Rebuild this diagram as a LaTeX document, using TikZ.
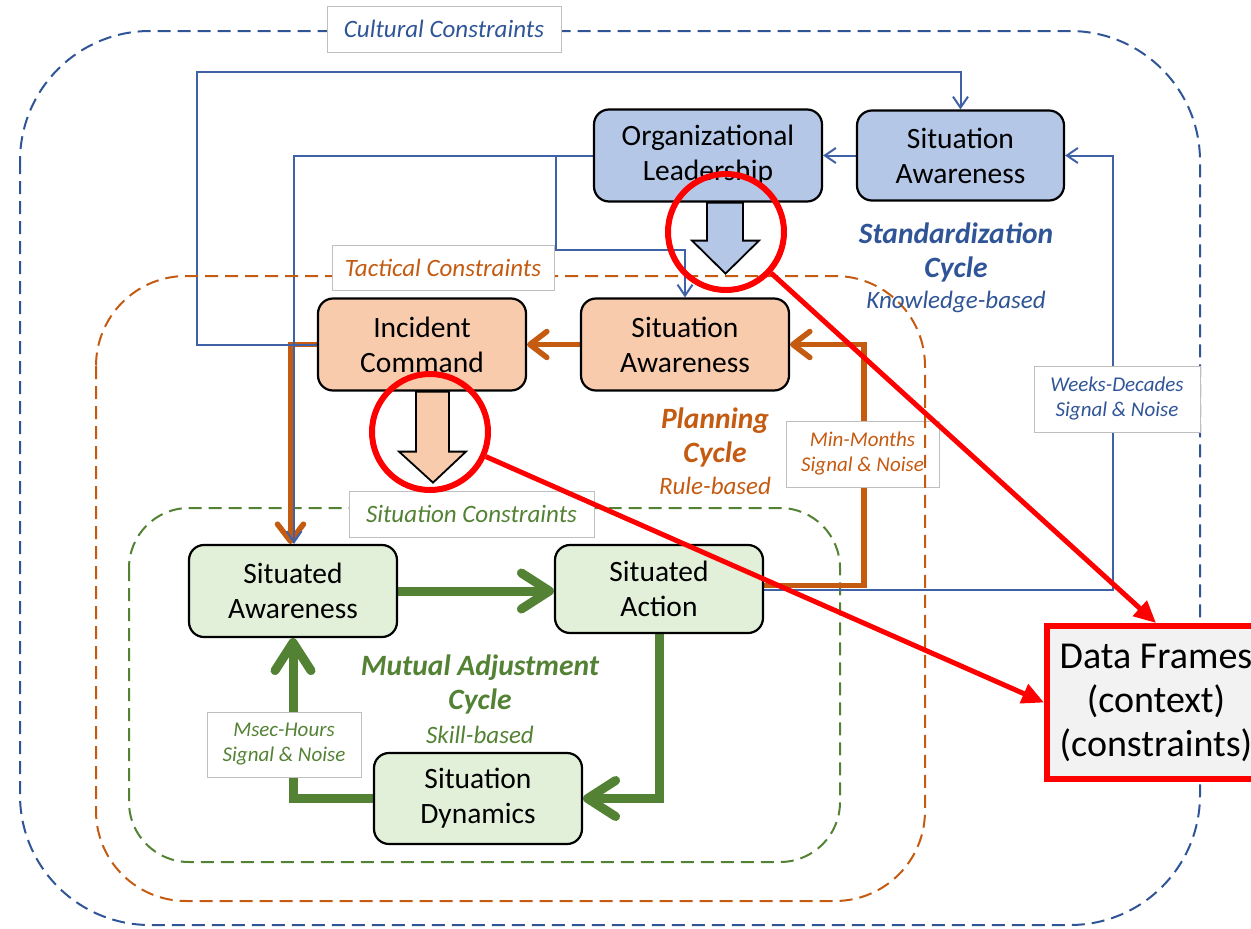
\documentclass[tikz,border=0pt]{standalone}
\usepackage{fontspec}
\setmainfont{Carlito}
\usetikzlibrary{arrows.meta}

\pgfdeclarelayer{frameA}
\pgfdeclarelayer{labelA}
\pgfdeclarelayer{links}
\pgfdeclarelayer{tags}
\pgfdeclarelayer{frameB}
\pgfdeclarelayer{labelB}
\pgfdeclarelayer{marks}
\pgfsetlayers{frameA,labelA,links,tags,frameB,labelB,main,marks}

\definecolor{cblue}{HTML}{2F5597}
\definecolor{clink}{HTML}{3F62A6}
\definecolor{corange}{HTML}{C55A11}
\definecolor{cgreen}{HTML}{548235}
\definecolor{fblue}{HTML}{B4C7E7}
\definecolor{forange}{HTML}{F8CBAD}
\definecolor{fgreen}{HTML}{E2F0D9}
\definecolor{fgray}{HTML}{F2F2F2}
\definecolor{cframe}{HTML}{BFBFBF}
\definecolor{cred}{HTML}{FF0000}

\tikzset{
  box/.style={draw=black, line width=2.2pt, rounded corners=15pt,
    minimum width=208pt, minimum height=92pt, align=center, inner sep=0pt,
    font=\fontsize{29.5pt}{35pt}\selectfont},
  tag/.style={draw=cframe, line width=1pt, fill=white, align=center, inner sep=0pt,
    font=\itshape\fontsize{21pt}{25pt}\selectfont},
  ctag/.style={draw=cframe, line width=1pt, fill=white, inner sep=0pt,
    font=\itshape\fontsize{25pt}{29pt}\selectfont},
  frame/.style={dash pattern=on 13pt off 7pt, line width=2pt},
  bline/.style={draw=clink, line width=2pt, -{Straight Barb[length=11pt,width=15pt]}},
  oline/.style={draw=corange, line width=5.5pt, -{Straight Barb[length=17pt,width=26pt,round]}},
  gline/.style={draw=cgreen, line width=9pt, -{Straight Barb[length=28pt,width=36pt,round]}},
  blockarrow/.style={draw=black, line width=1.8pt, line join=miter},
  ring/.style={circle, draw=cred, line width=6pt, minimum size=116pt, inner sep=0pt},
  rline/.style={draw=cred, line width=5pt, -{Triangle[length=22pt,width=20pt]}},
  cyc/.style={font=\bfseries\itshape\fontsize{29.5pt}{34pt}\selectfont, anchor=base, inner sep=0pt},
  sub/.style={font=\itshape\fontsize{25pt}{29pt}\selectfont, anchor=base, inner sep=0pt},
}

\begin{document}
\begin{tikzpicture}[x=1pt,y=-1pt]
\useasboundingbox (0,0) rectangle (1251,929);

% ---- process boxes ----
\node[box, fill=fblue, minimum width=228pt] (ol) at (708,155.5) {Organizational\\Leadership};
\node[box, fill=fblue, minimum width=207pt, minimum height=90pt] (bsa) at (960.5,155.5) {Situation\\Awareness};
\node[box, fill=forange] (ic) at (422,344.5) {Incident\\Command};
\node[box, fill=forange] (osa) at (685,344.5) {Situation\\Awareness};
\node[box, fill=fgreen] (saw) at (293,591) {Situated\\Awareness};
\node[box, fill=fgreen, minimum height=88pt] (sac) at (659,589) {Situated\\Action};
\node[box, fill=fgreen, minimum height=91pt] (sdy) at (478,798.5) {Situation\\Dynamics};
\node[draw=cred, line width=6pt, fill=fgray, minimum width=218pt, minimum height=153pt,
  align=center, inner sep=0pt, font=\fontsize{38pt}{44pt}\selectfont] (df) at (1156,702.5)
  {Data Frames\\(context)\\(constraints)};

% ---- block arrows between levels ----
\draw[blockarrow, fill=fblue] ([xshift=-1pt]ol.south) -- ++(0,38) -- ++(-15,0)
  -- ++(33.5,33) -- ++(33.5,-33) -- ++(-16,0) -- ++(0,-38) -- cycle;
\draw[blockarrow, fill=forange] ([xshift=-6pt]ic.south) -- ++(0,60) -- ++(-17,0)
  -- ++(34,31) -- ++(33,-31) -- ++(-17,0) -- ++(0,-60) -- cycle;

% ---- cycle captions ----
\node[cyc, text=cblue] (stdz) at (956,243) {Standardization};
\node[cyc, text=cblue] (stdc) at (956,277) {Cycle};
\node[sub, text=cblue] (stdk) at (956,308) {Knowledge-based};
\node[cyc, text=corange] (plan) at (715,428) {Planning};
\node[cyc, text=corange] (planc) at (715,462) {Cycle};
\node[sub, text=corange] (planr) at (715,494) {Rule-based};
\node[cyc, text=cgreen] (mut) at (480,675) {Mutual Adjustment};
\node[cyc, text=cgreen] (mutc) at (480,709) {Cycle};
\node[sub, text=cgreen] (muts) at (480,743) {Skill-based};

% ---- constraint frames ----
\begin{pgfonlayer}{frameA}
  \draw[frame, draw=cblue, rounded corners=130pt] (20,31) rectangle (1200,925);
  \draw[frame, draw=cgreen, rounded corners=60pt] (129,508) rectangle (840,862);
\end{pgfonlayer}
\begin{pgfonlayer}{labelA}
  \node[ctag, minimum width=234pt, minimum height=46pt, text=cblue] (lcult) at (444,29) {Cultural Constraints};
  \node[ctag, minimum width=245pt, minimum height=46pt, text=cgreen] (lsit) at (471.5,514) {Situation Constraints};
\end{pgfonlayer}
\begin{pgfonlayer}{frameB}
  \draw[frame, draw=corange, rounded corners=90pt] (96,276) rectangle (925,901);
\end{pgfonlayer}
\begin{pgfonlayer}{labelB}
  \node[ctag, minimum width=222pt, minimum height=45pt, text=corange] (ltac) at (443,267.5) {Tactical Constraints};
\end{pgfonlayer}

% ---- feedback connectors ----
\begin{pgfonlayer}{links}
  % skill level
  \draw[gline] (saw.east) -- (saw.east -| sac.west);
  \draw[gline] (sac.south) |- (sdy.east);
  \draw[gline] (sdy.west) -| (saw.south);
  % rule level
  \draw[oline] ([yshift=3.5pt]sac.east) -| (864,344.5) -- (osa.east);
  \draw[oline] (osa.west) -- (ic.east);
  \draw[oline] (ic.west) -| ([xshift=-2.5pt]saw.north);
  % knowledge level
  \coordinate (br) at (556,155.5);
  \draw[bline] ([yshift=-1pt]sac.east) -| (1113,155.5) -- (bsa.east);
  \draw[bline] (bsa.west) -- (ol.east);
  \draw[bline] (ol.west) -| ([xshift=1pt]saw.north);
  \draw[bline] (br) -- (556,250) -| (osa.north);
  \draw[bline] (ic.west) -| (197,72) -| (bsa.north);
\end{pgfonlayer}

% ---- time-scale tags ----
\begin{pgfonlayer}{tags}
  \node[tag, minimum width=166pt, minimum height=66pt, text=cblue] (twd) at (1117,399) {Weeks-Decades\\Signal \& Noise};
  \node[tag, minimum width=153pt, minimum height=66pt, text=corange] (tmm) at (862.5,454) {Min-Months\\Signal \& Noise};
  \node[tag, minimum width=154pt, minimum height=65pt, text=cgreen] (tms) at (284,744.5) {Msec-Hours\\Signal \& Noise};
\end{pgfonlayer}

% ---- highlights ----
\begin{pgfonlayer}{marks}
  \node[ring] (c1) at (726,232) {};
  \node[ring] (c2) at (430,432) {};
  \draw[rline] (c1) -- (df.north);
  \draw[rline] (c2) -- (df.west);
\end{pgfonlayer}
\end{tikzpicture}
\end{document}
